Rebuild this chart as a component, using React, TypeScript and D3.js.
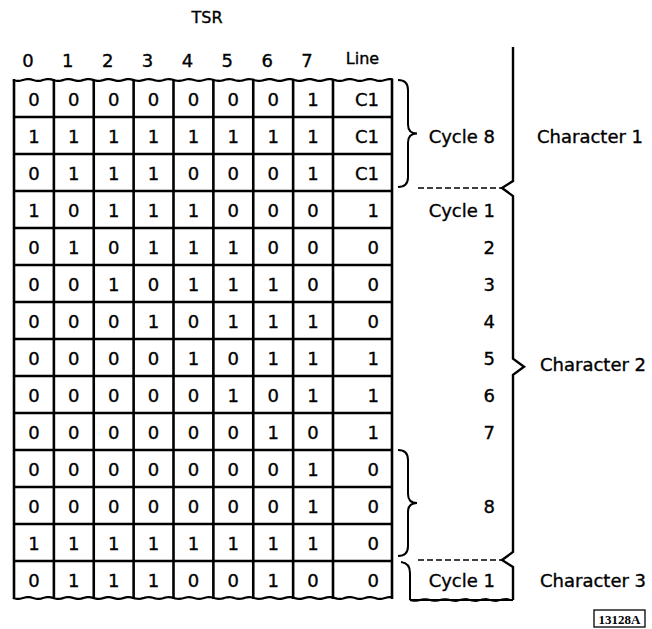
import React from "react";
import * as d3 from "d3";

const title = "TSR";
const bitHeaders = ["0", "1", "2", "3", "4", "5", "6", "7"];
const lineHeader = "Line";
const bitRows: number[][] = [
  [0, 0, 0, 0, 0, 0, 0, 1],
  [1, 1, 1, 1, 1, 1, 1, 1],
  [0, 1, 1, 1, 0, 0, 0, 1],
  [1, 0, 1, 1, 1, 0, 0, 0],
  [0, 1, 0, 1, 1, 1, 0, 0],
  [0, 0, 1, 0, 1, 1, 1, 0],
  [0, 0, 0, 1, 0, 1, 1, 1],
  [0, 0, 0, 0, 1, 0, 1, 1],
  [0, 0, 0, 0, 0, 1, 0, 1],
  [0, 0, 0, 0, 0, 0, 1, 0],
  [0, 0, 0, 0, 0, 0, 0, 1],
  [0, 0, 0, 0, 0, 0, 0, 1],
  [1, 1, 1, 1, 1, 1, 1, 1],
  [0, 1, 1, 1, 0, 0, 1, 0],
];
const lineValues = ["C1", "C1", "C1", "1", "0", "0", "0", "1", "1", "1", "0", "0", "0", "0"];
// cycle labels: [label, row center position (in row units)]
const cycleLabels: [string, number][] = [
  ["Cycle 8", 1.5],
  ["Cycle 1", 3.5],
  ["2", 4.5],
  ["3", 5.5],
  ["4", 6.5],
  ["5", 7.5],
  ["6", 8.5],
  ["7", 9.5],
  ["8", 11.5],
  ["Cycle 1", 13.5],
];
const characterLabels: [string, number][] = [
  ["Character 1", 1.5],
  ["Character 2", 7.65],
  ["Character 3", 13.5],
];
const figureId = "13128A";

const W = 652;
const H = 629;
const FONT = "'DejaVu Sans', sans-serif";

const x = d3.scaleLinear().domain([0, 8]).range([14, 333]);
const xEnd = 392;
const y = d3.scaleLinear().domain([0, 14]).range([80, 598]);

function wavy(x0: number, x1: number, yy: number): string {
  const pts: [number, number][] = [];
  const step = 2;
  for (let xx = x0; xx <= x1 + 0.01; xx += step) {
    pts.push([xx, yy + Math.sin((xx - x0) / 3.2) * 0.9]);
  }
  return d3.line()(pts) || "";
}

function brace(xl: number, y0: number, y1: number): string {
  const xm = xl + 10;
  const xt = xl + 19;
  const ym = (y0 + y1) / 2;
  return `M${xl},${y0} Q${xm},${y0} ${xm},${y0 + 10} L${xm},${ym - 9} Q${xm},${ym} ${xt},${ym} Q${xm},${ym} ${xm},${ym + 9} L${xm},${y1 - 10} Q${xm},${y1} ${xl},${y1}`;
}

const textStroke = { stroke: "#000", strokeWidth: 0.35 };

export default function App() {
  const bx = 513;
  const dashY1 = y(3) - 3;
  const dashY2 = y(13) - 1;
  const charMid = y(7.75);
  const bigBracket = [
    `M${bx},47 L${bx},${dashY1 - 7} L${bx - 11},${dashY1} L${bx},${dashY1 + 8}`,
    `L${bx},${charMid - 8} L${bx + 11},${charMid} L${bx},${charMid + 8}`,
    `L${bx},${dashY2 - 8} L${bx - 11},${dashY2} L${bx},${dashY2 + 7} L${bx},${y(14) + 2}`,
  ].join(" ");
  return (
    <svg width={W} height={H} style={{ position: "absolute", left: 0, top: 0, background: "#fff" }}>
      <g fontFamily={FONT} fill="#000" {...textStroke}>
        <text x={207} y={17} fontSize={16} textAnchor="middle" dominantBaseline="central">
          {title}
        </text>
        {bitHeaders.map((h, i) => (
          <text key={h} x={x(i + 0.5) - 6} y={60} fontSize={18} textAnchor="middle" dominantBaseline="central">
            {h}
          </text>
        ))}
        <text x={(x(8) + xEnd) / 2} y={58} fontSize={16} textAnchor="middle" dominantBaseline="central">
          {lineHeader}
        </text>
      </g>
      {/* cells */}
      <g fontFamily={FONT} fontSize={18} {...textStroke}>
        {bitRows.map((row, r) =>
          row.map((v, c) => (
            <text key={`${r}-${c}`} x={x(c + 0.5)} y={y(r + 0.5) + 1} textAnchor="middle" dominantBaseline="central">
              {v}
            </text>
          ))
        )}
        {lineValues.map((v, r) => (
          <text key={`l${r}`} x={379} y={y(r + 0.5) + 1} textAnchor="end" dominantBaseline="central">
            {v}
          </text>
        ))}
      </g>
      {/* grid */}
      <g stroke="#000" strokeWidth={2.6} fill="none">
        {d3.range(1, 14).map((r) => (
          <line key={`h${r}`} x1={x(0)} x2={xEnd} y1={y(r)} y2={y(r)} />
        ))}
        {d3.range(0, 9).map((c) => (
          <line key={`v${c}`} x1={x(c)} x2={x(c)} y1={y(0) - 1} y2={y(14) + 1} />
        ))}
        <line x1={xEnd} x2={xEnd} y1={y(0) - 1} y2={y(14) + 1} />
        <path d={wavy(x(0) - 1, xEnd + 1, y(0))} strokeWidth={2.2} />
        <path d={wavy(x(0) - 1, xEnd + 1, y(14))} strokeWidth={2.2} />
      </g>
      {/* braces */}
      <g stroke="#000" strokeWidth={2} fill="none">
        <path d={brace(398, y(0), y(3) - 4)} />
        <path d={brace(398, y(10), y(13) - 5)} />
        <path d={bigBracket} strokeWidth={2.4} />
        <path d={`M${bx},${y(14) + 2} ${wavy(410, bx, y(14) + 2).replace("M", "L")}`} strokeWidth={2} />
        <path d={`M410,${y(14) + 2} L410,${y(13) + 12} Q410,${y(13) + 2} 401,${y(13) + 1}`} />
        <line x1={418} x2={bx - 11} y1={dashY1} y2={dashY1} strokeWidth={1.3} strokeDasharray="6,3" />
        <line x1={418} x2={bx - 11} y1={dashY2} y2={dashY2} strokeWidth={1.3} strokeDasharray="6,3" />
      </g>
      <g fontFamily={FONT} fontSize={18} {...textStroke}>
        {cycleLabels.map(([t, p], i) => (
          <text key={`c${i}`} x={495} y={y(p) + 1} textAnchor="end" dominantBaseline="central">
            {t}
          </text>
        ))}
        {characterLabels.map(([t, p], i) => (
          <text key={`ch${i}`} x={i === 0 ? 537 : 540} y={y(p) + 1} dominantBaseline="central">
            {t}
          </text>
        ))}
      </g>
      <rect x={594} y={610} width={51} height={17} fill="none" stroke="#000" strokeWidth={1.3} />
      <text
        x={619.5}
        y={619}
        fontFamily="'Liberation Serif', serif"
        fontSize={13}
        fontWeight="bold"
        textAnchor="middle"
        dominantBaseline="central"
      >
        {figureId}
      </text>
    </svg>
  );
}
